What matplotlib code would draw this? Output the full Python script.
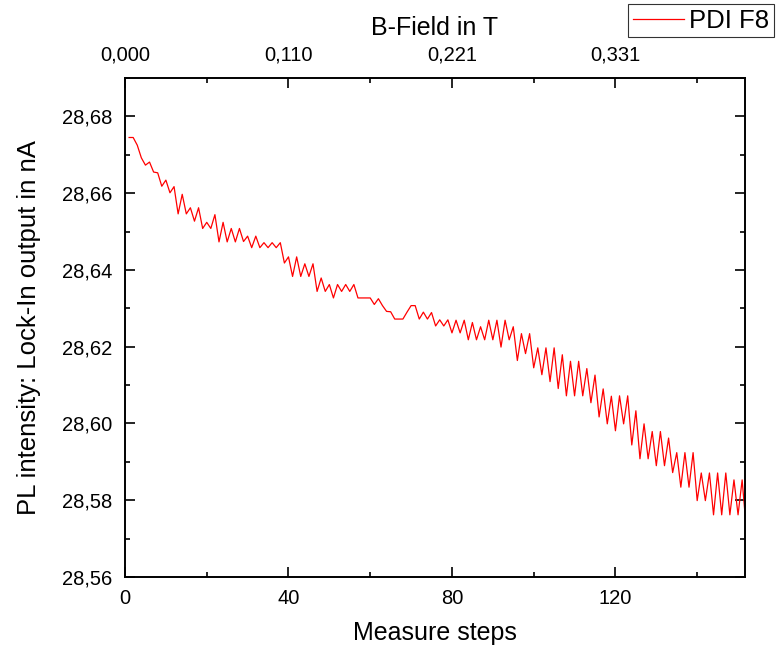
import matplotlib
matplotlib.use("Agg")
import matplotlib.pyplot as plt
from matplotlib.ticker import MultipleLocator, FuncFormatter, FixedLocator

plt.rcParams['font.family'] = ['Liberation Sans', 'DejaVu Sans']

# ---- data ----
steps = list(range(1, 153))
pl_intensity = [
    28.6745, 28.6745, 28.6725, 28.6692, 28.6673, 28.6681, 28.6655, 28.6653, 28.6618, 28.6634,
    28.6601, 28.6617, 28.6546, 28.6597, 28.6546, 28.6562, 28.6527, 28.6562, 28.6508, 28.6524,
    28.6508, 28.6544, 28.6473, 28.6524, 28.6473, 28.6508, 28.6473, 28.6508, 28.6474, 28.6488,
    28.6458, 28.6488, 28.6458, 28.6471, 28.6458, 28.6471, 28.6458, 28.6471, 28.6418, 28.6434,
    28.6383, 28.6434, 28.6383, 28.6416, 28.6383, 28.6416, 28.6344, 28.6379, 28.6344, 28.6362,
    28.6327, 28.6362, 28.6344, 28.6362, 28.6344, 28.6362, 28.6327, 28.6327, 28.6327, 28.6327,
    28.6310, 28.6325, 28.6307, 28.6292, 28.6291, 28.6272, 28.6272, 28.6272, 28.6290, 28.6307,
    28.6307, 28.6272, 28.6290, 28.6272, 28.6289, 28.6254, 28.6270, 28.6254, 28.6270, 28.6236,
    28.6269, 28.6236, 28.6269, 28.6218, 28.6263, 28.6218, 28.6252, 28.6218, 28.6269, 28.6218,
    28.6269, 28.6199, 28.6269, 28.6218, 28.6252, 28.6164, 28.6234, 28.6182, 28.6234, 28.6145,
    28.6197, 28.6127, 28.6197, 28.6109, 28.6197, 28.6091, 28.6179, 28.6072, 28.6162, 28.6072,
    28.6162, 28.6072, 28.6143, 28.6054, 28.6126, 28.6017, 28.6090, 28.5999, 28.6071, 28.5981,
    28.6072, 28.5999, 28.6072, 28.5944, 28.6033, 28.5908, 28.5999, 28.5908, 28.5979, 28.5890,
    28.5979, 28.5890, 28.5962, 28.5872, 28.5924, 28.5834, 28.5924, 28.5834, 28.5924, 28.5799,
    28.5871, 28.5799, 28.5871, 28.5762, 28.5871, 28.5762, 28.5871, 28.5762, 28.5853, 28.5762,
    28.5853, 28.5727,
]
series_label = "PDI F8"
top_tick_steps = [0, 40, 80, 120]
top_tick_labels = ["0,000", "0,110", "0,221", "0,331"]
x_label = "Measure steps"
y_label = "PL intensity: Lock-In output in nA"
top_label = "B-Field in T"

# ---- figure ----
fig = plt.figure(figsize=(7.78, 6.53), dpi=100)
ax = fig.add_axes([125/778, 76/653, 620/778, 499/653])

line, = ax.plot(steps, pl_intensity, color='#ff0000', lw=0.9, label=series_label)

ax.set_xlim(0, 151.7)
ax.set_ylim(28.56, 28.69)
ax.xaxis.set_major_locator(MultipleLocator(40))
ax.xaxis.set_minor_locator(MultipleLocator(20))
ax.yaxis.set_major_locator(MultipleLocator(0.02))
ax.yaxis.set_minor_locator(MultipleLocator(0.01))
ax.yaxis.set_major_formatter(FuncFormatter(lambda v, p: f"{v:.2f}".replace('.', ',')))

for s in ax.spines.values():
    s.set_linewidth(1.2)

ax.tick_params(which='major', direction='in', length=7, width=1.2, labelsize=14.5,
               right=True, top=False)
ax.tick_params(axis='x', which='major', pad=9)
ax.tick_params(axis='y', which='major', pad=9)
ax.tick_params(which='minor', direction='in', length=3.5, width=1.2, right=True, top=False)

ax.set_xlabel(x_label, fontsize=18, labelpad=9)
ax.set_ylabel(y_label, fontsize=18.5, labelpad=15)

# top axis
ax2 = ax.twiny()
ax2.set_xlim(ax.get_xlim())
ax2.xaxis.set_major_locator(FixedLocator(top_tick_steps))
ax2.set_xticklabels(top_tick_labels)
ax2.xaxis.set_minor_locator(MultipleLocator(20))
ax2.tick_params(which='major', direction='in', length=7, width=1.2, labelsize=14.5, pad=10)
ax2.tick_params(which='minor', direction='in', length=3.5, width=1.2)
ax2.set_xlabel(top_label, fontsize=18, labelpad=7)
for s in ax2.spines.values():
    s.set_linewidth(1.2)

leg = fig.legend(handles=[line], loc='upper left', bbox_to_anchor=(628/778, 1 - 4/653),
                 fontsize=18.5, frameon=True, fancybox=False, handlelength=2.0,
                 handletextpad=0.2, borderpad=0.18, borderaxespad=0)
leg.get_frame().set_edgecolor('black')
leg.get_frame().set_linewidth(0.8)

fig.savefig("out.png", dpi=100)
